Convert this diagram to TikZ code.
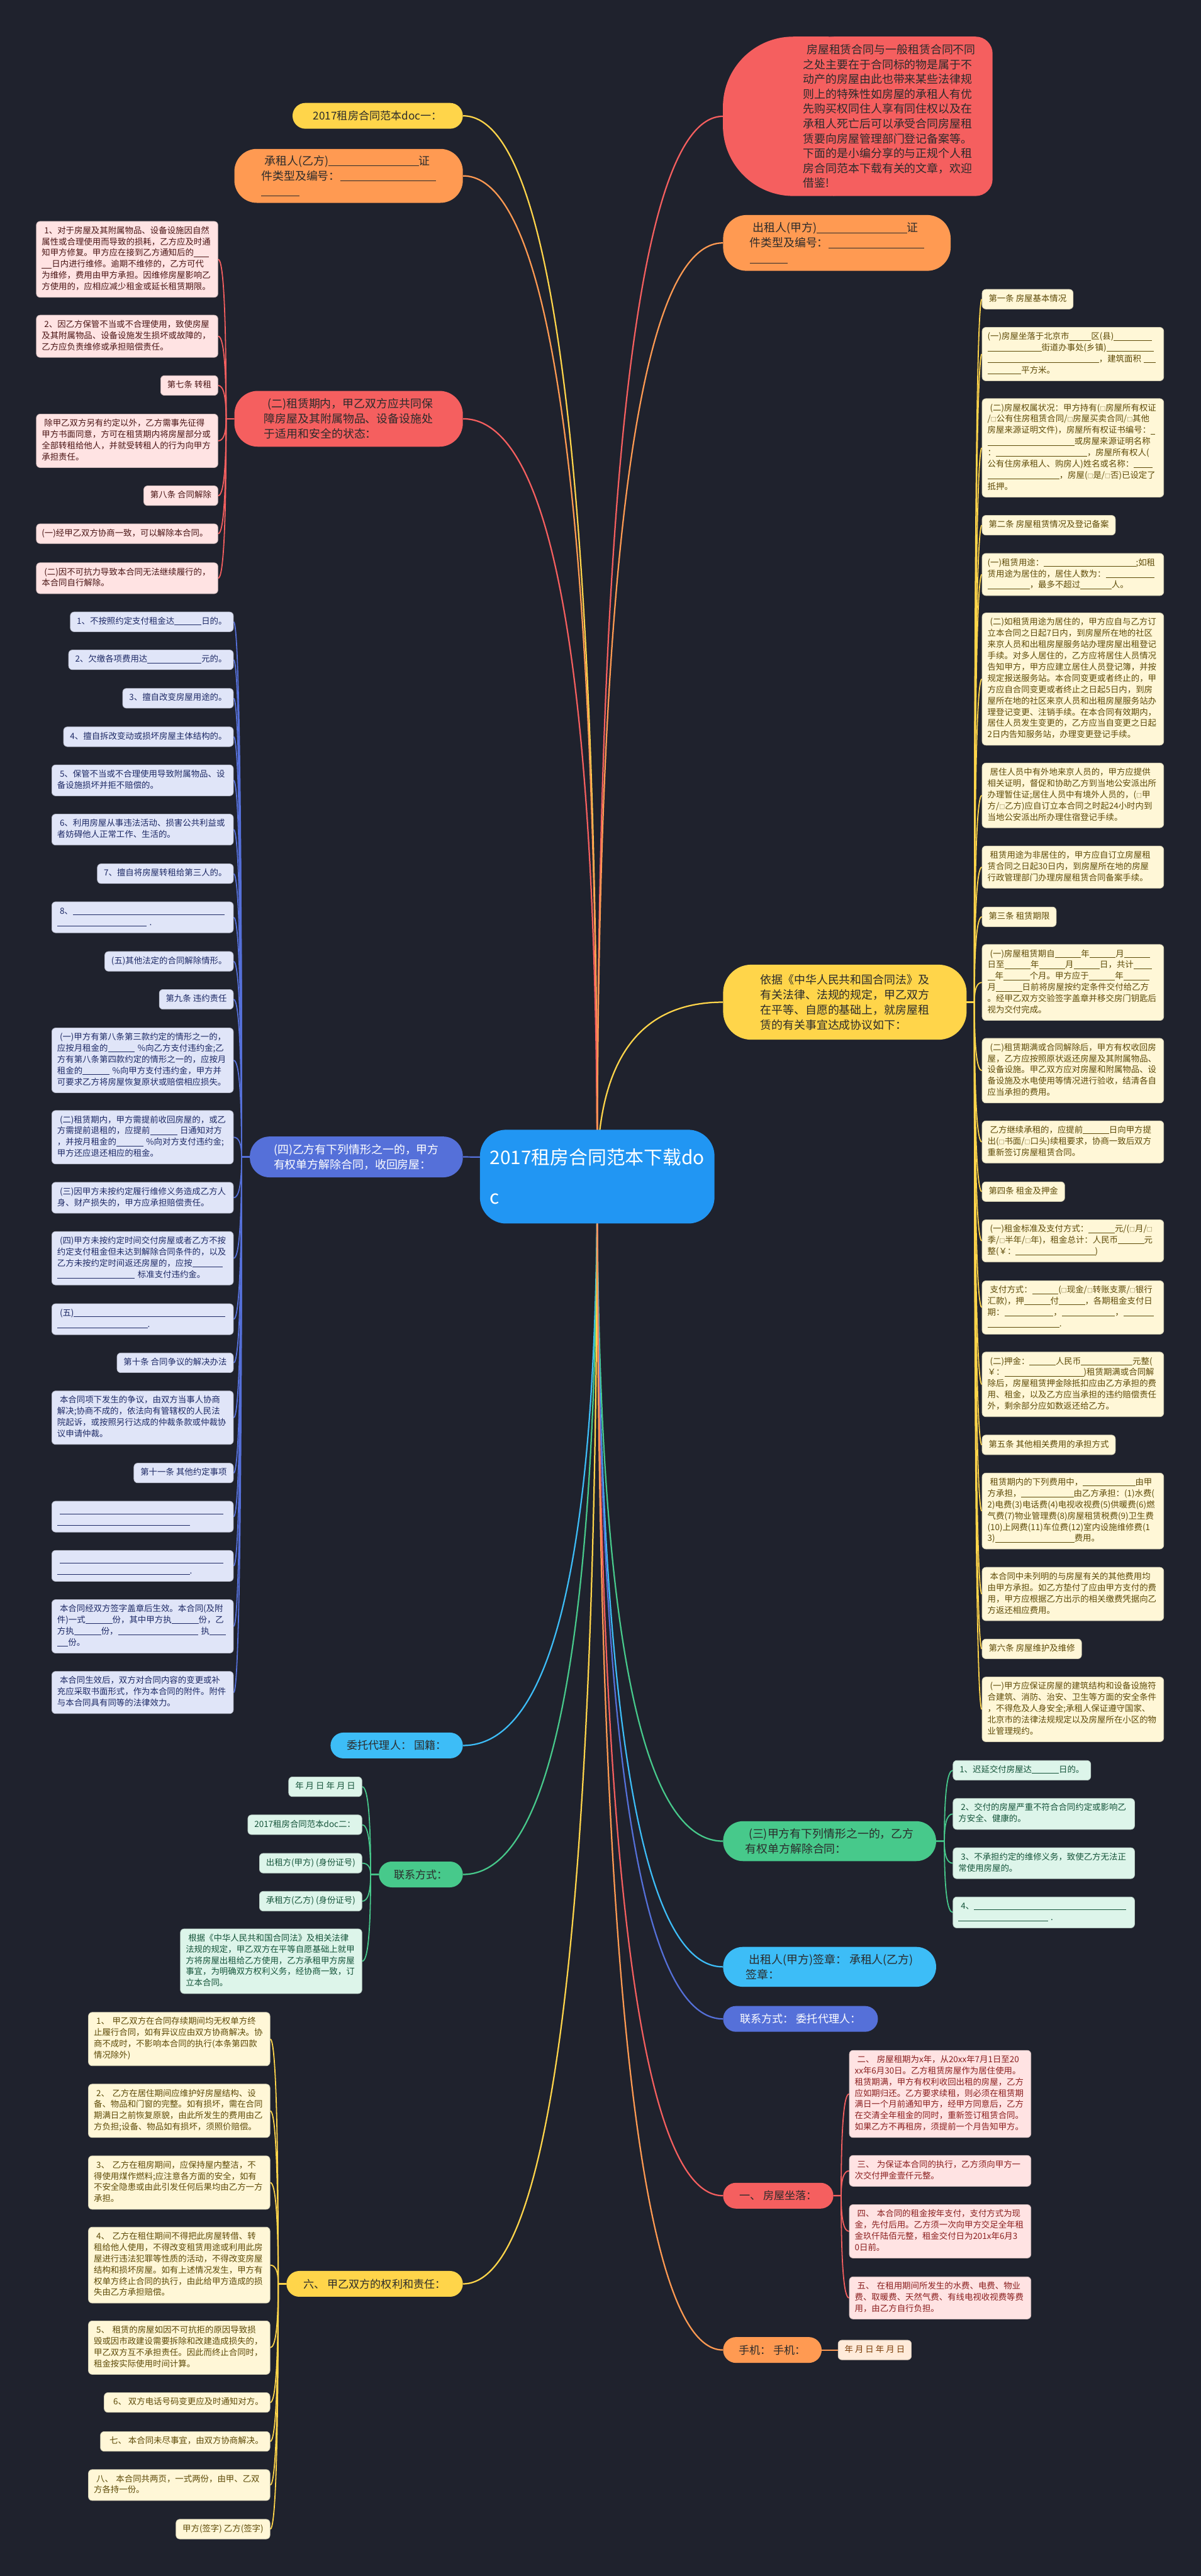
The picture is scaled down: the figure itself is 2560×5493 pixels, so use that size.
\documentclass[tikz,border=0pt]{standalone}
\usepackage{fontspec}
\setmainfont{Noto Sans CJK SC}
\usetikzlibrary{calc}
\definecolor{bgc}{HTML}{1F222D}
\definecolor{cRoot}{HTML}{2196F3}
\definecolor{cYel}{HTML}{FFD54A}
\definecolor{cOra}{HTML}{FF9A52}
\definecolor{cRed}{HTML}{F55F5F}
\definecolor{cBlu}{HTML}{5570D9}
\definecolor{cLbl}{HTML}{3DBDF7}
\definecolor{cGrn}{HTML}{47C98B}
\definecolor{fYel}{HTML}{FFF7D7}
\definecolor{tYel}{HTML}{5E4B08}
\definecolor{fOra}{HTML}{FFEBDA}
\definecolor{tOra}{HTML}{7A3B06}
\definecolor{fRed}{HTML}{FFE3E3}
\definecolor{tRed}{HTML}{4A1515}
\definecolor{tRedB}{HTML}{8A1F1F}
\definecolor{fBlu}{HTML}{E0E5F8}
\definecolor{tBlu}{HTML}{1E2A66}
\definecolor{fGrn}{HTML}{DDF5EA}
\definecolor{tGrn}{HTML}{15543A}
\definecolor{tDark}{HTML}{2B2B2B}
\pgfdeclarelayer{bgl}\pgfdeclarelayer{lines}\pgfdeclarelayer{shp}
\pgfsetlayers{bgl,lines,shp,main}
\newcommand{\blnk}[1]{\rule[-0.12em]{#1em}{0.06em}}
\newcommand{\cbx}{{\fontsize{6}{6}\selectfont □}}
\newcommand{\lsp}{\hspace*{0.3em}}
\newcommand{\qconn}[3]{\coordinate (qc) at (#2 |- #3);\draw[mc,#1] (#2) .. controls ($(#2)!0.6667!(qc)$) and ($(#3)!0.6667!(qc)$) .. (#3);}
\newcommand{\sconn}[4]{\coordinate (qs) at (#3 |- #4);\draw[sc,#1] (#2) -- (#3) .. controls ($(#3)!0.6667!(qs)$) and ($(#4)!0.6667!(qs)$) .. (#4);}
\tikzset{
  mc/.style={line width=1.5pt},
  sc/.style={line width=1.2pt},
  lf/.style={rounded corners=4pt, inner xsep=7pt, inner ysep=4.5pt, font=\fontsize{9}{12}\selectfont, align=left, execute at begin node=\strut, execute at end node=\strut, line width=0.5pt},
  lw/.style={lf, inner xsep=5.75pt, text width=182pt},
  lR/.style={fill=fRed, text=tRed, draw=fRed!82!black},
  lRB/.style={fill=fRed, text=tRedB, draw=fRed!82!black},
  lB/.style={fill=fBlu, text=tBlu, draw=fBlu!82!black},
  lY/.style={fill=fYel, text=tYel, draw=fYel!82!black},
  lG/.style={fill=fGrn, text=tGrn, draw=fGrn!82!black},
  lO/.style={fill=fOra, text=tOra, draw=fOra!82!black},
  mn/.style={inner sep=2pt, align=left, text=tDark, font=\fontsize{12}{16}\selectfont},
  ms/.style={mn, font=\fontsize{11.5}{15}\selectfont, minimum height=27.5pt, rounded corners=13.7pt},
}
\begin{document}
\begin{tikzpicture}[x=0.5pt,y=-0.5pt]
\begin{pgfonlayer}{bgl}
\fill[bgc] (0,0) rectangle (2560,5493);
\end{pgfonlayer}
\useasboundingbox (0,0) rectangle (2560,5493);

% ---------- root ----------
\node[fill=cRoot, text=white, font=\fontsize{20}{42}\selectfont, align=left, minimum width=250pt, minimum height=100pt, rounded corners=28pt] (root) at (1273,2509) {2017租房合同范本下载do\\c};

% ---------- left main nodes ----------
\node[ms, fill=cYel, minimum width=181.5pt, anchor=east] (m1) at (987,247) {2017租房合同范本doc一：};
\node[mn, fill=cOra, minimum width=243.5pt, minimum height=57.5pt, rounded corners=24pt, anchor=east] (m2) at (987,375) {\lsp 承租人(乙方)\blnk{8}证\\件类型及编号：\blnk{8.5}\\\blnk{3.4}};
\node[mn, fill=cRed, minimum width=243.5pt, minimum height=59.5pt, rounded corners=25pt, anchor=east] (m3) at (987,893) {\lsp(二)租赁期内，甲乙双方应共同保\\障房屋及其附属物品、设备设施处\\于适用和安全的状态：};
\node[mn, fill=cBlu, text=white, minimum width=227pt, minimum height=43.5pt, rounded corners=21pt, anchor=east] (m4) at (987,2467) {(四)乙方有下列情形之一的，甲方\\有权单方解除合同，收回房屋：};
\node[ms, fill=cLbl, minimum width=141pt, anchor=east] (m5) at (987,3722) {委托代理人：~国籍：};
\node[ms, fill=cGrn, minimum width=89.5pt, anchor=east] (m6) at (987,3997) {联系方式：};
\node[ms, fill=cYel, minimum width=188pt, anchor=east] (m7) at (987,4870) {六、~甲乙双方的权利和责任：};

% ---------- right main nodes ----------
\node[minimum width=287pt, minimum height=169.5pt, anchor=west, inner sep=0pt] (n1) at (1541,248) {};
\node[font=\fontsize{12}{15.8}\selectfont, align=left, text=tDark, inner sep=0pt, anchor=west] (n1t) at (1712,248) {\lsp 房屋租赁合同与一般租赁合同不同\\之处主要在于合同标的物是属于不\\动产的房屋由此也带来某些法律规\\则上的特殊性如房屋的承租人有优\\先购买权同住人享有同住权以及在\\承租人死亡后可以承受合同房屋租\\赁要向房屋管理部门登记备案等。\\下面的是小编分享的与正规个人租\\房合同范本下载有关的文章，欢迎\\借鉴!};
\node[mn, fill=cOra, minimum width=242.5pt, minimum height=59.5pt, rounded corners=25pt, anchor=west] (n2) at (1541,518) {\lsp 出租人(甲方)\blnk{8}证\\件类型及编号：\blnk{8.5}\\\blnk{3.4}};
\node[mn, fill=cYel, minimum width=259.5pt, minimum height=80pt, rounded corners=30pt, anchor=west] (n3) at (1541,2137) {依据《中华人民共和国合同法》及\\有关法律、法规的规定，甲乙双方\\在平等、自愿的基础上，就房屋租\\赁的有关事宜达成协议如下：};
\node[mn, fill=cGrn, minimum width=227pt, minimum height=42.5pt, rounded corners=21pt, anchor=west] (n4) at (1541,3926) {\lsp(三)甲方有下列情形之一的，乙方\\有权单方解除合同：};
\node[mn, fill=cLbl, minimum width=227pt, minimum height=42.5pt, rounded corners=21pt, anchor=west] (n5) at (1541,4194) {\lsp 出租人(甲方)签章：~承租人(乙方)\\签章：};
\node[ms, fill=cBlu, text=white, minimum width=165pt, anchor=west] (n6) at (1541,4305) {联系方式：~委托代理人：};
\node[ms, fill=cRed, minimum width=117.5pt, anchor=west] (n7) at (1541,4682) {一、~房屋坐落：};
\node[ms, fill=cOra, minimum width=105pt, anchor=west] (n8) at (1541,5011) {手机：~手机：};

% ---------- red group (二) ----------
\node[lw, lR, anchor=east] (l1) at (465,553) {\lsp 1、对于房屋及其附属物品、设备设施因自然\\属性或合理使用而导致的损耗，乙方应及时通\\知甲方修复。甲方应在接到乙方通知后的\blnk{1.8}\\\blnk{1.2}日内进行维修。逾期不维修的，乙方可代\\为维修，费用由甲方承担。因维修房屋影响乙\\方使用的，应相应减少租金或延长租赁期限。};
\node[lw, lR, anchor=east] (l2) at (465,717) {\lsp 2、因乙方保管不当或不合理使用，致使房屋\\及其附属物品、设备设施发生损坏或故障的，\\乙方应负责维修或承担赔偿责任。};
\node[lf, lR, anchor=east] (l3) at (465,822) {第七条~转租};
\node[lw, lR, anchor=east] (l4) at (465,940) {\lsp 除甲乙双方另有约定以外，乙方需事先征得\\甲方书面同意，方可在租赁期内将房屋部分或\\全部转租给他人，并就受转租人的行为向甲方\\承担责任。};
\node[lf, lR, anchor=east] (l5) at (465,1057) {第八条~合同解除};
\node[lw, lR, anchor=east] (l6) at (465,1138) {(一)经甲乙双方协商一致，可以解除本合同。};
\node[lw, lR, anchor=east] (l7) at (465,1233) {\lsp(二)因不可抗力导致本合同无法继续履行的，\\本合同自行解除。};

% ---------- blue group (四) ----------
\node[lf, lB, anchor=east] (b1) at (498,1326) {1、不按照约定支付租金达\blnk{3.2}日的。};
\node[lf, lB, anchor=east] (b2) at (498,1407) {2、欠缴各项费用达\blnk{6.4}元的。};
\node[lf, lB, anchor=east] (b3) at (498,1489) {3、擅自改变房屋用途的。};
\node[lf, lB, anchor=east] (b4) at (498,1571) {4、擅自拆改变动或损坏房屋主体结构的。};
\node[lw, lB, anchor=east] (b5) at (498,1664) {\lsp 5、保管不当或不合理使用导致附属物品、设\\备设施损坏并拒不赔偿的。};
\node[lw, lB, anchor=east] (b6) at (498,1769) {\lsp 6、利用房屋从事违法活动、损害公共利益或\\者妨碍他人正常工作、生活的。};
\node[lf, lB, anchor=east] (b7) at (498,1863) {7、擅自将房屋转租给第三人的。};
\node[lw, lB, anchor=east] (b8) at (498,1956) {\lsp 8、\blnk{18}\\\blnk{10.6}~.};
\node[lf, lB, anchor=east] (b9) at (498,2050) {(五)其他法定的合同解除情形。};
\node[lf, lB, anchor=east] (b10) at (498,2131) {第九条~违约责任};
\node[lw, lB, anchor=east] (b11) at (498,2261) {\lsp(一)甲方有第八条第三款约定的情形之一的，\\应按月租金的\blnk{3.2}~\%向乙方支付违约金;乙\\方有第八条第四款约定的情形之一的，应按月\\租金的\blnk{3.2}~\%向甲方支付违约金，甲方并\\可要求乙方将房屋恢复原状或赔偿相应损失。};
\node[lw, lB, anchor=east] (b12) at (498,2425) {\lsp(二)租赁期内，甲方需提前收回房屋的，或乙\\方需提前退租的，应提前\blnk{3.2}~日通知对方\\，并按月租金的\blnk{3.2}~\%向对方支付违约金;\\甲方还应退还相应的租金。};
\node[lw, lB, anchor=east] (b13) at (498,2554) {\lsp(三)因甲方未按约定履行维修义务造成乙方人\\身、财产损失的，甲方应承担赔偿责任。};
\node[lw, lB, anchor=east] (b14) at (498,2683) {\lsp(四)甲方未按约定时间交付房屋或者乙方不按\\约定支付租金但未达到解除合同条件的，以及\\乙方未按约定时间返还房屋的，应按\blnk{3.6}\\\blnk{9.2}~标准支付违约金。};
\node[lw, lB, anchor=east] (b15) at (498,2813) {\lsp(五)\blnk{17.9}\\\blnk{10.7}.};
\node[lf, lB, anchor=east] (b16) at (498,2906) {第十条~合同争议的解决办法};
\node[lw, lB, anchor=east] (b17) at (498,3023) {\lsp 本合同项下发生的争议，由双方当事人协商\\解决;协商不成的，依法向有管辖权的人民法\\院起诉，或按照另行达成的仲裁条款或仲裁协\\议申请仲裁。};
\node[lf, lB, anchor=east] (b18) at (498,3141) {第十一条~其他约定事项};
\node[lw, lB, anchor=east] (b19) at (498,3234) {\lsp\blnk{19.4}\\\blnk{15.7}};
\node[lw, lB, anchor=east] (b20) at (498,3339) {\lsp\blnk{19.4}\\\blnk{15.7}.};
\node[lw, lB, anchor=east] (b21) at (498,3468) {\lsp 本合同经双方签字盖章后生效。本合同(及附\\件)一式\blnk{3.2}份，其中甲方执\blnk{3.2}份，乙\\方执\blnk{3.2}份，\blnk{9.5}~执\blnk{1.9}\\\blnk{1.3}份。};
\node[lw, lB, anchor=east] (b22) at (498,3609) {\lsp 本合同生效后，双方对合同内容的变更或补\\充应采取书面形式，作为本合同的附件。附件\\与本合同具有同等的法律效力。};

% ---------- green group 联系方式 ----------
\node[lf, lG, anchor=east] (c1) at (772,3810) {年~月~日~年~月~日};
\node[lf, lG, anchor=east] (c2) at (772,3891) {2017租房合同范本doc二：};
\node[lf, lG, anchor=east] (c3) at (772,3973) {出租方(甲方)~(身份证号)};
\node[lf, lG, anchor=east] (c4) at (772,4054) {承租方(乙方)~(身份证号)};
\node[lw, lG, anchor=east] (c5) at (772,4182) {\lsp 根据《中华人民共和国合同法》及相关法律\\法规的规定，甲乙双方在平等自愿基础上就甲\\方将房屋出租给乙方使用，乙方承租甲方房屋\\事宜，为明确双方权利义务，经协商一致，订\\立本合同。};

% ---------- yellow group 六 ----------
\node[lw, lY, anchor=east] (y1) at (576,4348) {\lsp 1、~甲乙双方在合同存续期间均无权单方终\\止履行合同，如有异议应由双方协商解决。协\\商不成时，不影响本合同的执行(本条第四款\\情况除外)};
\node[lw, lY, anchor=east] (y2) at (576,4501) {\lsp 2、~乙方在居住期间应维护好房屋结构、设\\备、物品和门窗的完整。如有损坏，需在合同\\期满日之前恢复原貌，由此所发生的费用由乙\\方负担;设备、物品如有损坏，须照价赔偿。};
\node[lw, lY, anchor=east] (y3) at (576,4654) {\lsp 3、~乙方在租房期间，应保持屋内整洁，不\\得使用煤作燃料;应注意各方面的安全，如有\\不安全隐患或由此引发任何后果均由乙方一方\\承担。};
\node[lw, lY, anchor=east] (y4) at (576,4830) {\lsp 4、~乙方在租住期间不得把此房屋转借、转\\租给他人使用，不得改变租赁用途或利用此房\\屋进行违法犯罪等性质的活动，不得改变房屋\\结构和损坏房屋。如有上述情况发生，甲方有\\权单方终止合同的执行，由此给甲方造成的损\\失由乙方承担赔偿。};
\node[lw, lY, anchor=east] (y5) at (576,5006) {\lsp 5、~租赁的房屋如因不可抗拒的原因导致损\\毁或因市政建设需要拆除和改建造成损失的，\\甲乙双方互不承担责任。因此而终止合同时，\\租金按实际使用时间计算。};
\node[lf, lY, anchor=east] (y6) at (576,5123) {\lsp 6、~双方电话号码变更应及时通知对方。};
\node[lf, lY, anchor=east] (y7) at (576,5206) {\lsp 七、~本合同未尽事宜，由双方协商解决。};
\node[lw, lY, anchor=east] (y8) at (576,5299) {\lsp 八、~本合同共两页，一式两份，由甲、乙双\\方各持一份。};
\node[lf, lY, anchor=east] (y9) at (576,5393) {甲方(签字)~乙方(签字)};

% ---------- yellow group 依据 ----------
\node[lf, lY, anchor=west] (w1) at (2093,638) {第一条~房屋基本情况};
\node[lw, lY, anchor=west] (w2) at (2093,755) {(一)房屋坐落于北京市\blnk{2.6}区(县)\blnk{4.5}\\\blnk{6.4}街道办事处(乡镇)\blnk{5.6}\\\blnk{13.2}，建筑面积~\blnk{1.4}\\\blnk{4}平方米。};
\node[lw, lY, anchor=west] (w3) at (2093,955) {\lsp(二)房屋权属状况：甲方持有(\cbx 房屋所有权证\\/\cbx 公有住房租赁合同/\cbx 房屋买卖合同/\cbx 其他\\房屋来源证明文件)，房屋所有权证书编号：\blnk{0.5}\\\blnk{10.3}或房屋来源证明名称\\：\blnk{10.8}，房屋所有权人(\\公有住房承租人、购房人)姓名或名称：\blnk{2.2}\\\blnk{8.5}，房屋(\cbx 是/\cbx 否)已设定了\\抵押。};
\node[lf, lY, anchor=west] (w4) at (2093,1120) {第二条~房屋租赁情况及登记备案};
\node[lw, lY, anchor=west] (w5) at (2093,1225) {(一)租赁用途：\blnk{10.9};如租\\赁用途为居住的，居住人数为：\blnk{5.8}\\\blnk{5}，最多不超过\blnk{3.7}人。};
\node[lw, lY, anchor=west] (w6) at (2093,1448) {\lsp(二)如租赁用途为居住的，甲方应自与乙方订\\立本合同之日起7日内，到房屋所在地的社区\\来京人员和出租房屋服务站办理房屋出租登记\\手续。对多人居住的，乙方应将居住人员情况\\告知甲方，甲方应建立居住人员登记簿，并按\\规定报送服务站。本合同变更或者终止的，甲\\方应自合同变更或者终止之日起5日内，到房\\屋所在地的社区来京人员和出租房屋服务站办\\理登记变更、注销手续。在本合同有效期内，\\居住人员发生变更的，乙方应当自变更之日起\\2日内告知服务站，办理变更登记手续。};
\node[lw, lY, anchor=west] (w7) at (2093,1696) {\lsp 居住人员中有外地来京人员的，甲方应提供\\相关证明，督促和协助乙方到当地公安派出所\\办理暂住证;居住人员中有境外人员的，(\cbx 甲\\方/\cbx 乙方)应自订立本合同之时起24小时内到\\当地公安派出所办理住宿登记手续。};
\node[lw, lY, anchor=west] (w8) at (2093,1849) {\lsp 租赁用途为非居住的，甲方应自订立房屋租\\赁合同之日起30日内，到房屋所在地的房屋\\行政管理部门办理房屋租赁合同备案手续。};
\node[lf, lY, anchor=west] (w9) at (2093,1955) {第三条~租赁期限};
\node[lw, lY, anchor=west] (w10) at (2093,2095) {\lsp(一)房屋租赁期自\blnk{3.1}年\blnk{3.1}月\blnk{3.1}\\日至\blnk{3.1}年\blnk{3.1}月\blnk{3.1}日，共计\blnk{2.2}\\\blnk{0.9}年\blnk{3.1}个月。甲方应于\blnk{3.1}年\blnk{3.1}\\月\blnk{3.1}日前将房屋按约定条件交付给乙方\\。经甲乙双方交验签字盖章并移交房门钥匙后\\视为交付完成。};
\node[lw, lY, anchor=west] (w11) at (2093,2283) {\lsp(二)租赁期满或合同解除后，甲方有权收回房\\屋，乙方应按照原状返还房屋及其附属物品、\\设备设施。甲乙双方应对房屋和附属物品、设\\备设施及水电使用等情况进行验收，结清各自\\应当承担的费用。};
\node[lw, lY, anchor=west] (w12) at (2093,2435) {\lsp 乙方继续承租的，应提前\blnk{3.1}日向甲方提\\出(\cbx 书面/\cbx 口头)续租要求，协商一致后双方\\重新签订房屋租赁合同。};
\node[lf, lY, anchor=west] (w13) at (2093,2541) {第四条~租金及押金};
\node[lw, lY, anchor=west] (w14) at (2093,2646) {\lsp(一)租金标准及支付方式：\blnk{3.1}元/(\cbx 月/\cbx\\季/\cbx 半年/\cbx 年)，租金总计：人民币\blnk{3.1}元\\整(￥：\blnk{9.4})};
\node[lw, lY, anchor=west] (w15) at (2093,2788) {\lsp 支付方式：\blnk{3.1}(\cbx 现金/\cbx 转账支票/\cbx 银行\\汇款)，押\blnk{3.1}付\blnk{3.1}，各期租金支付日\\期：\blnk{5.8}，\blnk{6.3}，\blnk{3.6}\\\blnk{8.5}.};
\node[lw, lY, anchor=west] (w16) at (2093,2952) {\lsp(二)押金：\blnk{3.1}人民币\blnk{6.1}元整(\\￥：\blnk{9.4})租赁期满或合同解\\除后，房屋租赁押金除抵扣应由乙方承担的费\\用、租金，以及乙方应当承担的违约赔偿责任\\外，剩余部分应如数返还给乙方。};
\node[lf, lY, anchor=west] (w17) at (2093,3081) {第五条~其他相关费用的承担方式};
\node[lw, lY, anchor=west] (w18) at (2093,3222) {\lsp 租赁期内的下列费用中，\blnk{6.2}由甲\\方承担，\blnk{6.2}由乙方承担：(1)水费(\\2)电费(3)电话费(4)电视收视费(5)供暖费(6)燃\\气费(7)物业管理费(8)房屋租赁税费(9)卫生费\\(10)上网费(11)车位费(12)室内设施维修费(1\\3)\blnk{9.4}费用。};
\node[lw, lY, anchor=west] (w19) at (2093,3399) {\lsp 本合同中未列明的与房屋有关的其他费用均\\由甲方承担。如乙方垫付了应由甲方支付的费\\用，甲方应根据乙方出示的相关缴费凭据向乙\\方返还相应费用。};
\node[lf, lY, anchor=west] (w20) at (2093,3516) {第六条~房屋维护及维修};
\node[lw, lY, anchor=west] (w21) at (2093,3645) {\lsp(一)甲方应保证房屋的建筑结构和设备设施符\\合建筑、消防、治安、卫生等方面的安全条件\\，不得危及人身安全;承租人保证遵守国家、\\北京市的法律法规规定以及房屋所在小区的物\\业管理规约。};

% ---------- green group (三) ----------
\node[lf, lG, anchor=west] (g1) at (2031,3775) {1、迟延交付房屋达\blnk{3.2}日的。};
\node[lw, lG, anchor=west] (g2) at (2031,3868) {\lsp 2、交付的房屋严重不符合合同约定或影响乙\\方安全、健康的。};
\node[lw, lG, anchor=west] (g3) at (2031,3973) {\lsp 3、不承担约定的维修义务，致使乙方无法正\\常使用房屋的。};
\node[lw, lG, anchor=west] (g4) at (2031,4078) {\lsp 4、\blnk{18}\\\blnk{10.6}~.};

% ---------- red group 一 ----------
\node[lw, lRB, anchor=west] (r1) at (1810,4465) {\lsp 二、~房屋租期为x年，从20xx年7月1日至20\\xx年6月30日。乙方租赁房屋作为居住使用。\\租赁期满，甲方有权利收回出租的房屋，乙方\\应如期归还。乙方要求续租，则必须在租赁期\\满日一个月前通知甲方，经甲方同意后，乙方\\在交清全年租金的同时，重新签订租赁合同。\\如果乙方不再租房，须提前一个月告知甲方。};
\node[lw, lRB, anchor=west] (r2) at (1810,4629) {\lsp 三、~为保证本合同的执行，乙方须向甲方一\\次交付押金壹仟元整。};
\node[lw, lRB, anchor=west] (r3) at (1810,4758) {\lsp 四、~本合同的租金按年支付，支付方式为现\\金，先付后用。乙方须一次向甲方交足全年租\\金玖仟陆佰元整，租金交付日为201x年6月3\\0日前。};
\node[lw, lRB, anchor=west] (r4) at (1810,4900) {\lsp 五、~在租用期间所发生的水费、电费、物业\\费、取暖费、天然气费、有线电视收视费等费\\用，由乙方自行负担。};

% ---------- orange leaf ----------
\node[lf, lO, anchor=west] (o1) at (1786,5011) {年~月~日~年~月~日};

% ---------- bubble shape ----------
\begin{pgfonlayer}{shp}
\fill[cRed, rounded corners=75pt] (n1.south west) rectangle ([xshift=-100pt]n1.north east);
\fill[cRed, rounded corners=18pt] ([xshift=100pt]n1.south west) rectangle (n1.north east);
\end{pgfonlayer}

% ---------- connectors ----------
\begin{pgfonlayer}{lines}
\qconn{cYel}{root.center}{m1.east}
\qconn{cOra}{root.center}{m2.east}
\qconn{cRed}{root.center}{m3.east}
\qconn{cBlu}{root.center}{m4.east}
\qconn{cLbl}{root.center}{m5.east}
\qconn{cGrn}{root.center}{m6.east}
\qconn{cYel}{root.center}{m7.east}
\qconn{cRed}{root.center}{n1.west}
\qconn{cOra}{root.center}{n2.west}
\qconn{cYel}{root.center}{n3.west}
\qconn{cGrn}{root.center}{n4.west}
\qconn{cLbl}{root.center}{n5.west}
\qconn{cBlu}{root.center}{n6.west}
\qconn{cRed}{root.center}{n7.west}
\qconn{cOra}{root.center}{n8.west}
% red (二)
\coordinate (tR) at (482,893);
\foreach \i in {1,...,7} {\sconn{cRed}{m3.west}{tR}{l\i.east}}
% blue (四)
\coordinate (tB) at (515,2467);
\foreach \i in {1,...,22} {\sconn{cBlu}{m4.west}{tB}{b\i.east}}
% green 联系方式
\coordinate (tC) at (790,3997);
\foreach \i in {1,...,5} {\sconn{cGrn}{m6.west}{tC}{c\i.east}}
% yellow 六
\coordinate (tY) at (593,4870);
\foreach \i in {1,...,9} {\sconn{cYel}{m7.west}{tY}{y\i.east}}
% yellow 依据
\coordinate (tW) at (2077,2137);
\foreach \i in {1,...,21} {\sconn{cYel}{n3.east}{tW}{w\i.west}}
% green (三)
\coordinate (tG) at (2013,3926);
\foreach \i in {1,...,4} {\sconn{cGrn}{n4.east}{tG}{g\i.west}}
% red 一
\coordinate (tH) at (1793,4682);
\foreach \i in {1,...,4} {\sconn{cRed}{n7.east}{tH}{r\i.west}}
% orange 手机
\draw[sc,cOra] (n8.east) -- (o1.west);
\end{pgfonlayer}
\end{tikzpicture}
\end{document}
